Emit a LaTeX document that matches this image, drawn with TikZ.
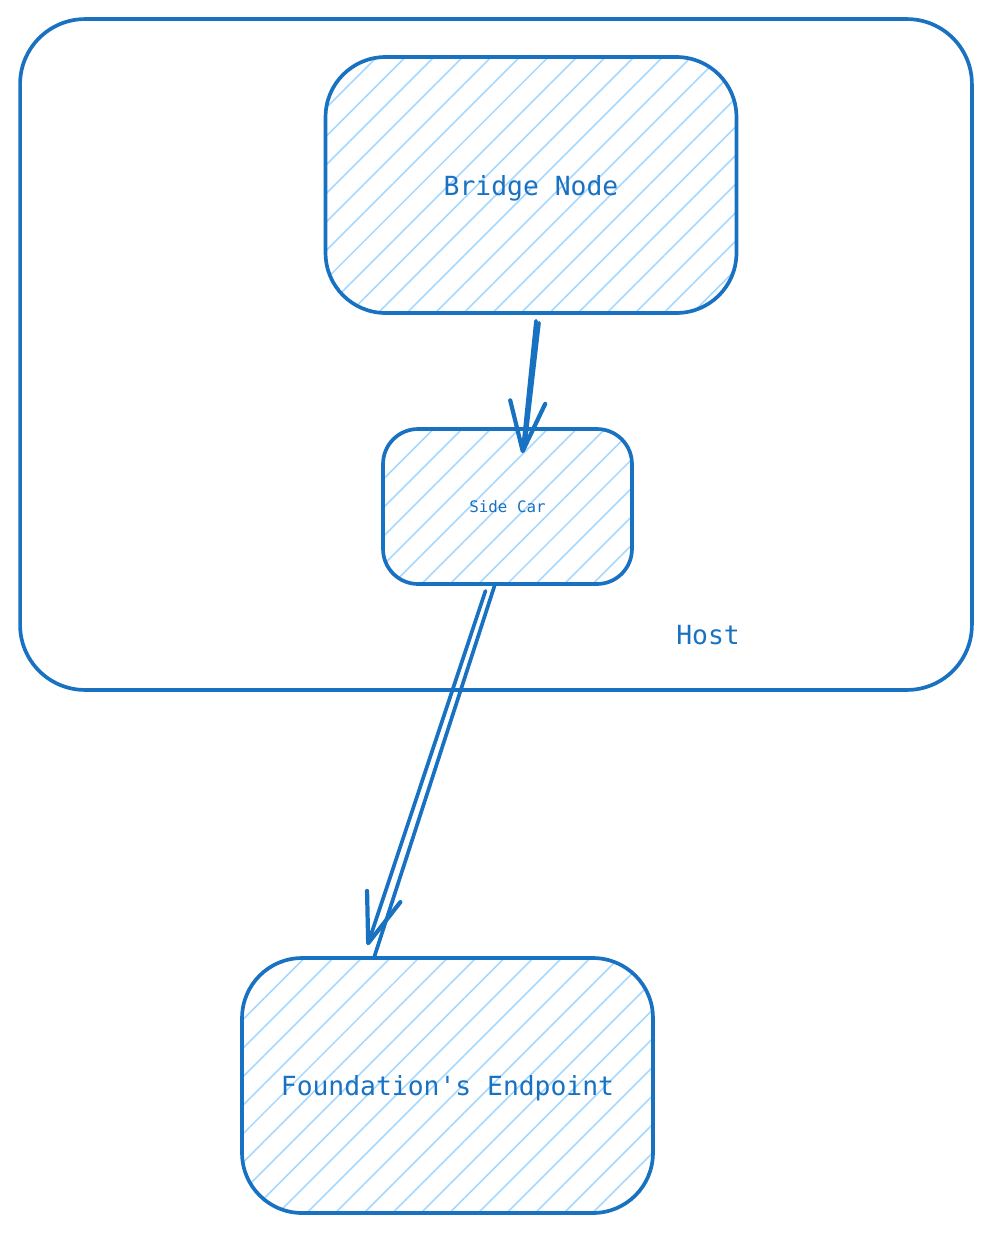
\documentclass[tikz,border=0pt]{standalone}
\usepackage{fontspec}
\setmonofont{DejaVu Sans Mono}
\usetikzlibrary{arrows.meta,patterns.meta,calc}
\definecolor{ink}{HTML}{1971C2}
\definecolor{hatch}{HTML}{A5D8FF}
\tikzset{
  box/.style={
      draw=ink,
      line width=2.1pt,
      rectangle,
      rounded corners=1.2cm,
      inner sep=0pt,
      text=ink,
      text depth=-0.12cm,
      font=\ttfamily\fontsize{15}{18}\selectfont,
      pattern={Lines[angle=45,distance=11.5pt,line width=0.9pt]},
      pattern color=hatch,
      minimum width=8.22cm,
      minimum height=5.12cm
  },
  box small/.style={
      box,
      rounded corners=0.7cm,
      text depth=-0.04cm,
      font=\ttfamily\fontsize{9}{11}\selectfont,
      minimum width=4.98cm,
      minimum height=3.1cm
  },
  host/.style={
      draw=ink,
      line width=2.1pt,
      rounded corners=1.3cm,
      inner sep=0pt,
      minimum width=19.04cm,
      minimum height=13.42cm
  },
  link/.style={
      draw=ink,
      line width=2.1pt,
      line cap=round
  },
  link tip/.style={
      link,
      -{Straight Barb[length=28pt,width=20pt,line width=2.4pt,round]}
  }
}

\begin{document}
\begin{tikzpicture}[x=0.02cm,y=-0.02cm]
    \useasboundingbox (0,0) rectangle (992,1234);
    \node[host] (host) at (496,354.5) {};
    \node[text=ink,font=\ttfamily\fontsize{15}{18}\selectfont] (hostlabel) at (708,635) {Host};
    \node[box] (bridge) at (531,185) {Bridge Node};
    \node[box small] (sidecar) at (507.5,506.5) {Side Car};
    \node[box,minimum height=5.1cm] (foundation) at (447.5,1085.5) {Foundation's Endpoint};
    % bridge -> side car
    \draw[link tip] ([xshift=0.1cm,yshift=-0.14cm]bridge.south)
        -- ([xshift=0.3cm,yshift=-0.52cm]sidecar.north);
    \draw[link] ([xshift=0.16cm,yshift=-0.18cm]bridge.south)
        -- ([xshift=0.34cm,yshift=-0.42cm]sidecar.north);
    % side car -> foundation
    \draw[link tip] ([xshift=-0.44cm,yshift=-0.1cm]sidecar.south)
        -- ([xshift=-1.6cm,yshift=0.22cm]foundation.north);
    \draw[link] ([xshift=-0.26cm]sidecar.south)
        -- ([xshift=-1.46cm]foundation.north);
\end{tikzpicture}
\end{document}
